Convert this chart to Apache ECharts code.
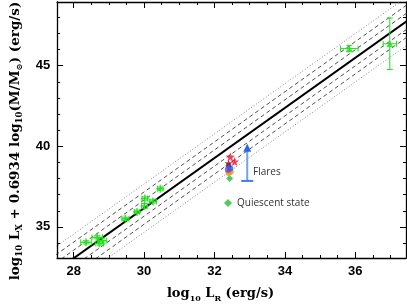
<!DOCTYPE html>
<html><head><meta charset="utf-8">
<script src="https://cdn.jsdelivr.net/npm/echarts@6/dist/echarts.min.js"></script>
<style>html,body{margin:0;padding:0;background:#fff}#c{width:407px;height:308px}</style>
</head><body><div id="c"></div>
<script>
// ---- tick labels / ticks ----
const xMajorTicks = [28, 30, 32, 34, 36];
const xMinorTicks = [27.5, 28.5, 29, 29.5, 30.5, 31, 31.5, 32.5, 33, 33.5, 34.5, 35, 35.5, 36.5, 37];
const yMajorTicks = [35, 40, 45];
const yMinorTicks = [34, 36, 37, 38, 39, 41, 42, 43, 44, 46, 47, 48];

// ---- fundamental-plane relation and scatter bands (endpoints) ----
const relationLine = [[27, 31.5], [38, 48.6]];
const dashUpper1 = [[27, 32.0], [38, 49.1]];
const dashUpper2 = [[27, 32.5], [38, 49.6]];
const dashLower1 = [[27, 31.0], [38, 48.1]];
const dashLower2 = [[27, 30.5], [38, 47.6]];
const dotUpper = [[27, 33.0], [38, 50.1]];
const dotLower = [[27, 30.0], [38, 47.1]];

// ---- green comparison sources: [logLR, logLX+0.6934logM, xErr, yErr] ----
const lowSources = [
  [28.35, 34.04, 0.15, 0.10],
  [28.67, 34.35, 0.15, 0.10],
  [28.73, 33.97, 0.12, 0.10],
  [28.82, 34.15, 0.12, 0.15],
  [29.47, 35.50, 0.10, 0.10],
  [29.80, 35.93, 0.08, 0.10],
  [30.01, 36.30, 0.08, 0.15],
  [30.02, 36.76, 0.08, 0.10],
  [30.25, 36.58, 0.10, 0.10],
  [30.46, 37.37, 0.08, 0.10]
];
const highSources = [
  [35.83, 46.06, 0.25, 0.20],
  [36.98, 46.36, 0.19, 1.60]
];

// ---- target: flares and quiescent state ----
const flareRed = [[32.45, 39.35], [32.57, 39.05]];
const flareDarkRed = [[32.40, 38.95]];
const flareBlue = [[32.40, 38.78], [32.45, 38.62]];
const flarePurple = [[32.38, 38.55]];
const flareOrange = [[32.40, 38.35], [32.46, 38.42]];
const quiescent = [[32.43, 38.0]];
const flareArrow = [[32.93, 37.85, 40.15]];

const GREEN = '#22e01e';
const X0 = 27.53, X1 = 37.44, Y0 = 33.07, Y1 = 48.95;

function errRender(params, api) {
  const x = api.value(0), y = api.value(1), xe = api.value(2), ye = api.value(3);
  const l = api.coord([x - xe, y]), r = api.coord([x + xe, y]);
  const t = api.coord([x, y + ye]), b = api.coord([x, y - ye]);
  const st = {stroke: GREEN, lineWidth: 1};
  const c = 3;
  return {type: 'group', children: [
    {type: 'line', shape: {x1: l[0], y1: l[1], x2: r[0], y2: r[1]}, style: st},
    {type: 'line', shape: {x1: t[0], y1: t[1], x2: b[0], y2: b[1]}, style: st},
    {type: 'line', shape: {x1: l[0], y1: l[1] - c, x2: l[0], y2: l[1] + c}, style: st},
    {type: 'line', shape: {x1: r[0], y1: r[1] - c, x2: r[0], y2: r[1] + c}, style: st},
    {type: 'line', shape: {x1: t[0] - c, y1: t[1], x2: t[0] + c, y2: t[1]}, style: st},
    {type: 'line', shape: {x1: b[0] - c, y1: b[1], x2: b[0] + c, y2: b[1]}, style: st}
  ]};
}

function arrowRender(params, api) {
  const x = api.value(0);
  const b = api.coord([x, api.value(1)]), t = api.coord([x, api.value(2)]);
  return {type: 'group', children: [
    {type: 'line', shape: {x1: b[0], y1: b[1], x2: t[0], y2: t[1] + 6}, style: {stroke: '#6fa3f5', lineWidth: 2}},
    {type: 'line', shape: {x1: b[0] - 6, y1: b[1], x2: b[0] + 6, y2: b[1]}, style: {stroke: '#3d7fef', lineWidth: 2}},
    {type: 'polygon', shape: {points: [[t[0], t[1]], [t[0] - 4, t[1] + 8], [t[0] + 4, t[1] + 8]]}, style: {fill: '#2a66e8'}}
  ]};
}

const STAR = 'path://M12 0 L15 8.5 L24 9 L17 14.5 L19.5 23 L12 18 L4.5 23 L7 14.5 L0 9 L9 8.5 Z';
const CROSS = 'path://M8 0 H12 V8 H20 V12 H12 V20 H8 V12 H0 V8 H8 Z';

function lineSeries(data, color, width, type) {
  return {type: 'line', data: data, xAxisIndex: 0, yAxisIndex: 0, symbol: 'none', silent: true,
    lineStyle: {color: color, width: width, type: type}, clip: true, z: 2};
}
function scatter(name, data, color, symbol, size) {
  return {type: 'scatter', name: name, data: data, xAxisIndex: 0, yAxisIndex: 0, symbol: symbol,
    symbolSize: size, itemStyle: {color: color}, z: 5};
}

const tickFont = {fontFamily: 'Liberation Sans', fontWeight: 'bold', fontSize: 13, color: '#000'};
const lineStyle = {color: '#000', width: 1.3};
const nameFont = 'DejaVu Serif';
const rich = (fs) => ({
  b: {fontFamily: nameFont, fontWeight: 'bold', fontSize: fs, color: '#000', lineHeight: fs + 6},
  s: {fontFamily: nameFont, fontWeight: 'bold', fontSize: fs - 5, color: '#000', lineHeight: fs + 6, verticalAlign: 'bottom'}
});

function xAx(pos, ticks, len, showLine, labels, extra) {
  return Object.assign({type: 'value', position: pos, min: X0, max: X1, gridIndex: 0,
    axisLine: {show: showLine, onZero: false, lineStyle: lineStyle},
    axisTick: {show: true, inside: true, length: len, customValues: ticks, lineStyle: {color: '#000', width: 1}},
    axisLabel: labels ? Object.assign({show: true, customValues: ticks, margin: 7}, tickFont) : {show: false},
    splitLine: {show: false}}, extra || {});
}
function yAx(pos, ticks, len, showLine, labels, extra) {
  return Object.assign({type: 'value', position: pos, min: Y0, max: Y1, gridIndex: 0,
    axisLine: {show: showLine, onZero: false, lineStyle: lineStyle},
    axisTick: {show: true, inside: true, length: len, customValues: ticks, lineStyle: {color: '#000', width: 1}},
    axisLabel: labels ? Object.assign({show: true, customValues: ticks, margin: 7}, tickFont) : {show: false},
    splitLine: {show: false}}, extra || {});
}

const chart = echarts.init(document.getElementById('c'), null, {renderer: 'canvas'});
chart.setOption({
  animation: false,
  backgroundColor: '#fff',
  grid: {left: 47, right: 1, top: 2, bottom: 40, containLabel: false},
  legend: {
    data: [{name: 'Quiescent state', icon: 'diamond'}],
    left: 219, top: 193, itemWidth: 8, itemHeight: 8, itemGap: 6,
    textStyle: {fontFamily: 'Open Sans', fontSize: 10, color: '#333'}
  },
  graphic: [{type: 'text', left: 253, top: 167, style: {text: 'Flares', font: '10px "Open Sans"', fill: '#333'}}],
  xAxis: [
    xAx('bottom', xMajorTicks, 6, true, true, {
      name: '{b|log}{s|10}{b| L}{s|R}{b| (erg/s)}', nameLocation: 'middle', nameGap: 26,
      nameTextStyle: {rich: rich(13), padding: [0, 22, 0, 0]}
    }),
    xAx('bottom', xMinorTicks, 3, false, false),
    xAx('top', xMajorTicks, 6, true, false),
    xAx('top', xMinorTicks, 3, false, false)
  ],
  yAxis: [
    yAx('left', yMajorTicks, 6, true, true, {
      name: '{b|log}{s|10}{b| L}{s|X}{b| + 0.6934 log}{s|10}{b|(M/M}{s|⊙}{b|) (erg/s)}',
      nameLocation: 'middle', nameGap: 29, nameRotate: 90,
      nameTextStyle: {rich: rich(13.5), padding: [0, 22, 0, 0]}
    }),
    yAx('left', yMinorTicks, 3, false, false),
    yAx('right', yMajorTicks, 6, true, false),
    yAx('right', yMinorTicks, 3, false, false)
  ],
  series: [
    lineSeries(dotUpper, '#888', 1, [1, 2]),
    lineSeries(dotLower, '#888', 1, [1, 2]),
    lineSeries(dashUpper2, '#222', 0.8, [4, 3]),
    lineSeries(dashUpper1, '#222', 0.8, [4, 3]),
    lineSeries(dashLower1, '#222', 0.8, [4, 3]),
    lineSeries(dashLower2, '#222', 0.8, [4, 3]),
    lineSeries(relationLine, '#000', 2, 'solid'),
    {type: 'custom', data: lowSources, xAxisIndex: 0, yAxisIndex: 0, renderItem: errRender, z: 4, silent: true},
    {type: 'custom', data: highSources, xAxisIndex: 0, yAxisIndex: 0, renderItem: errRender, z: 4, silent: true},
    scatter('low', lowSources, GREEN, CROSS, 8),
    scatter('high', highSources, GREEN, 'triangle', 7),
    {type: 'custom', data: flareArrow, xAxisIndex: 0, yAxisIndex: 0, renderItem: arrowRender, z: 4, silent: true},
    scatter('Quiescent state', quiescent, '#1fbf3a', 'diamond', 7),
    scatter('orange', flareOrange, '#f08a1c', 'circle', 6),
    scatter('purple', flarePurple, '#7b3fc4', 'circle', 6),
    scatter('blue', flareBlue, '#2d5fe0', 'circle', 6),
    scatter('darkred', flareDarkRed, '#9c1020', STAR, 8),
    scatter('red', flareRed, '#e8142c', STAR, 9)
  ]
});
</script></body></html>
